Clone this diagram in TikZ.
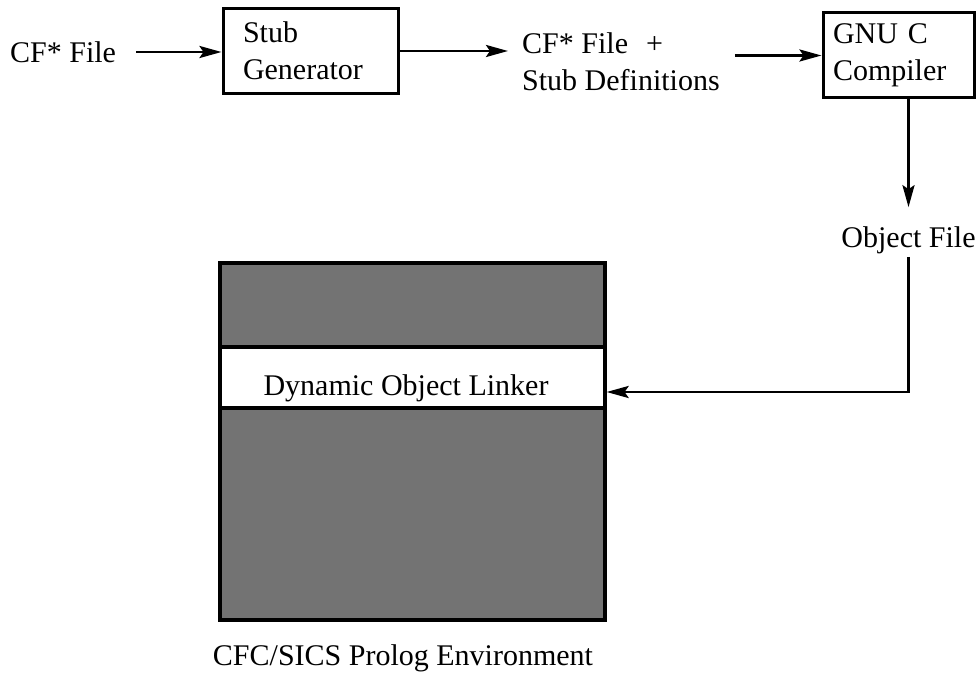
\documentclass[tikz,border=0pt]{standalone}
\usepackage{fontspec}
\setmainfont{Liberation Serif}
\usetikzlibrary{arrows.meta}
\begin{document}
\begin{tikzpicture}[x=1pt,y=-1pt,
  every node/.style={font=\fontsize{30}{37}\selectfont, inner sep=0pt},
  procbox/.style={draw, line width=3pt, align=left, minimum height=85pt},
  txt/.style={align=left},
  arr/.style={line width=2.8pt, -{Stealth[length=22pt,width=12pt,inset=4pt]}},
  shadebox/.style={draw, line width=3.5pt, fill=black!55},
  bandbox/.style={draw, line width=3.2pt, fill=white}
]
\useasboundingbox (0,0) rectangle (980,676);

% compilation chain
\node[anchor=west] (cf) at (10,52) {CF* File};
\node[procbox, minimum width=175pt, text width=135pt] (stub) at (310.5,51) {Stub\\Generator};
\node[txt, anchor=west] (cfs) at (522,62) {CF* File\hspace{18pt}+\\Stub Definitions};
\node[procbox, minimum width=151pt, text width=131pt] (gnu) at (898.5,55.5) {GNU C\\Compiler};
\node (obj) at (908.5,240) {Object File};

% Prolog environment with the linker band
\node[shadebox, minimum width=385pt, minimum height=357pt] (env) at (412.5,441.5) {};
\node[bandbox, minimum width=385pt, minimum height=61pt] (band) at (412.5,377.5) {};
\node (linker) at (406,388) {Dynamic Object Linker};
\node (envlabel) at (403,658) {CFC/SICS Prolog Environment};

% connectors
\draw[arr] ([xshift=20pt]cf.east) -- (stub.west |- cf.east);
\draw[arr] (stub.east) -- ([xshift=-14pt]stub.east -| cfs.west);
\draw[arr] ([xshift=15pt]cfs.east |- gnu.west) -- (gnu.west);
\draw[arr] (gnu.south -| obj.north) -- ([yshift=19pt]obj.north);
\draw[arr] ([yshift=-3pt]obj.south) |- ([yshift=-14.5pt]band.east);
\end{tikzpicture}
\end{document}
